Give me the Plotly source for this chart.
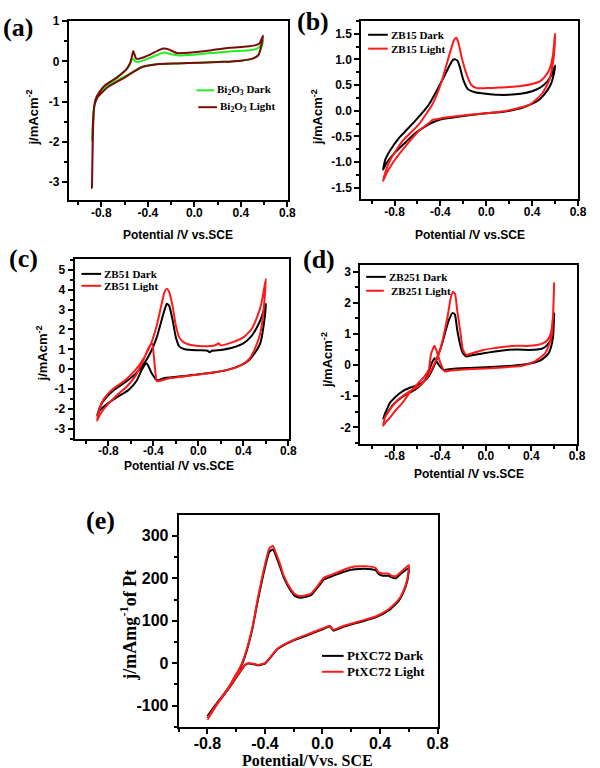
import plotly.graph_objects as go

W, H = 600, 768

# ---------------- data ----------------
# (a) Bi2O3
a_dark_x = [-0.88, -0.87, -0.86, -0.84, -0.80, -0.74, -0.66, -0.58, -0.55, -0.53, -0.51, -0.48, -0.40, -0.32, -0.26,
            -0.20, -0.14, 0.00, 0.15, 0.30, 0.45, 0.52, 0.56, 0.59,
            0.58, 0.55, 0.50, 0.40, 0.25, 0.05, -0.15, -0.32, -0.45, -0.55, -0.65, -0.75, -0.82, -0.86, -0.88]
a_dark_y = [-1.95, -1.50, -1.15, -0.88, -0.72, -0.56, -0.38, -0.19, -0.05, 0.08, 0.01, -0.01, 0.07, 0.16, 0.22,
            0.18, 0.15, 0.17, 0.21, 0.25, 0.27, 0.30, 0.36, 0.52,
            0.38, 0.17, 0.07, 0.02, -0.01, -0.03, -0.05, -0.07, -0.14, -0.30, -0.45, -0.63, -0.83, -1.10, -1.95]
a_light_x = [-0.88, -0.875, -0.87, -0.85, -0.82, -0.77, -0.66, -0.58, -0.55, -0.535, -0.525, -0.50, -0.46, -0.38,
             -0.30, -0.26, -0.22, -0.15, 0.00, 0.15, 0.30, 0.45, 0.52, 0.56, 0.59,
             0.58, 0.55, 0.50, 0.40, 0.25, 0.05, -0.15, -0.32, -0.46, -0.60, -0.74, -0.83, -0.86, -0.87, -0.88]
a_light_y = [-3.15, -2.20, -1.40, -0.95, -0.78, -0.60, -0.39, -0.18, -0.02, 0.15, 0.26, 0.07, 0.08, 0.17,
             0.29, 0.32, 0.30, 0.21, 0.23, 0.28, 0.34, 0.37, 0.40, 0.45, 0.64,
             0.45, 0.15, 0.07, 0.02, -0.01, -0.03, -0.05, -0.07, -0.15, -0.40, -0.63, -0.88, -1.10, -1.60, -3.15]

# (b) ZB15
b_dark_x = [-0.90, -0.88, -0.84, -0.76, -0.62, -0.50, -0.42, -0.36, -0.32, -0.29, -0.27, -0.25, -0.23, -0.20, -0.16,
            -0.10, 0.00, 0.10, 0.20, 0.30, 0.40, 0.47, 0.53, 0.57, 0.60,
            0.59, 0.56, 0.50, 0.44, 0.32, 0.15, 0.00, -0.15, -0.28, -0.40, -0.46, -0.52, -0.62, -0.72, -0.81, -0.87, -0.90]
b_dark_y = [-1.15, -0.95, -0.78, -0.53, -0.20, 0.12, 0.44, 0.70, 0.88, 0.99, 1.00, 0.97, 0.85, 0.60, 0.42,
            0.36, 0.33, 0.31, 0.31, 0.33, 0.38, 0.45, 0.56, 0.70, 0.88,
            0.72, 0.50, 0.30, 0.18, 0.06, -0.02, -0.05, -0.09, -0.13, -0.17, -0.22, -0.29, -0.44, -0.65, -0.85, -1.02, -1.15]
b_light_x = [-0.90, -0.88, -0.84, -0.73, -0.59, -0.47, -0.39, -0.34, -0.30, -0.28, -0.26, -0.24, -0.21, -0.17, -0.13,
             -0.08, 0.00, 0.10, 0.20, 0.30, 0.40, 0.46, 0.51, 0.55, 0.58, 0.60,
             0.595, 0.58, 0.55, 0.49, 0.38, 0.18, 0.00, -0.15, -0.30, -0.40, -0.45, -0.47, -0.50, -0.59, -0.70, -0.81,
             -0.87, -0.90]
b_light_y = [-1.37, -1.20, -0.97, -0.59, -0.27, 0.12, 0.56, 0.95, 1.25, 1.38, 1.42, 1.30, 1.00, 0.70, 0.50,
             0.44, 0.44, 0.45, 0.46, 0.48, 0.52, 0.56, 0.66, 0.80, 1.05, 1.50,
             1.20, 0.90, 0.60, 0.34, 0.12, 0.00, -0.05, -0.08, -0.12, -0.15, -0.17, -0.18, -0.24, -0.40, -0.68, -1.00,
             -1.22, -1.37]

# (c) ZB51
c_dark_x = [-0.90, -0.87, -0.83, -0.76, -0.66, -0.56, -0.48, -0.42, -0.37, -0.33, -0.30, -0.28, -0.26, -0.23, -0.20,
            -0.17, -0.12, 0.00, 0.08, 0.10, 0.12, 0.20, 0.30, 0.40, 0.47, 0.52, 0.56, 0.60,
            0.58, 0.55, 0.50, 0.45, 0.38, 0.25, 0.10, -0.10, -0.30, -0.37, -0.42, -0.46, -0.50, -0.55, -0.62, -0.72,
            -0.82, -0.88, -0.90]
c_dark_y = [-2.33, -1.85, -1.50, -1.10, -0.70, -0.25, 0.30, 0.90, 1.60, 2.40, 3.00, 3.30, 3.20, 2.50, 1.60,
            1.15, 1.00, 0.95, 0.93, 0.85, 0.93, 0.97, 1.08, 1.30, 1.65, 2.10, 2.60, 3.30,
            2.20, 1.30, 0.80, 0.45, 0.20, -0.05, -0.20, -0.33, -0.45, -0.55, -0.15, 0.30, 0.00, -0.60, -1.05, -1.40,
            -1.80, -2.10, -2.33]
c_light_x = [-0.90, -0.88, -0.84, -0.76, -0.66, -0.56, -0.48, -0.42, -0.37, -0.33, -0.30, -0.28, -0.26, -0.23, -0.20,
             -0.17, -0.13, -0.05, 0.05, 0.15, 0.18, 0.20, 0.30, 0.40, 0.47, 0.52, 0.56, 0.60,
             0.58, 0.55, 0.50, 0.45, 0.38, 0.25, 0.10, -0.10, -0.25, -0.35, -0.37, -0.39, -0.41, -0.44, -0.50, -0.56,
             -0.64, -0.74, -0.84, -0.88, -0.90]
c_light_y = [-2.60, -2.00, -1.50, -1.00, -0.60, -0.05, 0.60, 1.30, 2.20, 3.20, 3.90, 4.05, 3.90, 3.20, 2.20,
             1.60, 1.35, 1.20, 1.15, 1.20, 1.30, 1.20, 1.35, 1.60, 2.00, 2.60, 3.30, 4.55,
             3.00, 1.80, 1.00, 0.50, 0.20, -0.05, -0.20, -0.35, -0.45, -0.60, -0.60, 0.30, 1.30, 1.10, 0.30, -0.35,
             -0.90, -1.40, -2.00, -2.35, -2.60]

# (d) ZB251
d_dark_x = [-0.90, -0.87, -0.84, -0.78, -0.73, -0.66, -0.59, -0.54, -0.50, -0.46, -0.42, -0.38, -0.35, -0.32, -0.29,
            -0.27, -0.25, -0.22, -0.20, -0.17, -0.12, -0.02, 0.08, 0.18, 0.28, 0.38, 0.45, 0.50, 0.54, 0.57, 0.59, 0.60,
            0.59, 0.57, 0.55, 0.50, 0.46, 0.40, 0.32, 0.20, 0.04, -0.15, -0.30, -0.37, -0.41, -0.45, -0.48, -0.52,
            -0.56, -0.62, -0.70, -0.76, -0.82, -0.86, -0.90]
d_dark_y = [-1.72, -1.45, -1.21, -0.98, -0.84, -0.72, -0.63, -0.52, -0.36, -0.08, 0.28, 0.72, 1.13, 1.48, 1.68,
            1.62, 1.13, 0.60, 0.38, 0.28, 0.32, 0.38, 0.44, 0.49, 0.50, 0.49, 0.50, 0.54, 0.65, 0.82, 1.10, 1.66,
            0.90, 0.55, 0.38, 0.20, 0.12, 0.06, 0.01, -0.03, -0.06, -0.09, -0.12, -0.15, 0.00, 0.22, 0.00, -0.40,
            -0.60, -0.79, -0.95, -1.10, -1.30, -1.53, -1.72]
d_light_x = [-0.90, -0.88, -0.84, -0.78, -0.73, -0.66, -0.59, -0.54, -0.50, -0.45, -0.40, -0.36, -0.33, -0.31, -0.29,
             -0.27, -0.25, -0.22, -0.20, -0.17, -0.12, -0.02, 0.08, 0.18, 0.28, 0.38, 0.45, 0.50, 0.54, 0.57, 0.59, 0.60,
             0.59, 0.58, 0.55, 0.52, 0.47, 0.43, 0.32, 0.20, 0.04, -0.15, -0.30, -0.36, -0.40, -0.43, -0.45, -0.48,
             -0.50, -0.54, -0.59, -0.66, -0.73, -0.79, -0.84, -0.88, -0.90]
d_light_y = [-1.95, -1.65, -1.42, -1.15, -1.00, -0.83, -0.68, -0.52, -0.31, 0.05, 0.49, 1.10, 1.66, 2.10, 2.35,
             2.30, 1.76, 1.00, 0.49, 0.33, 0.38, 0.49, 0.55, 0.60, 0.62, 0.62, 0.65, 0.70, 0.80, 1.02, 1.60, 2.66,
             1.60, 1.00, 0.60, 0.38, 0.22, 0.12, -0.02, -0.06, -0.10, -0.13, -0.17, -0.20, 0.10, 0.45, 0.62, 0.35,
             -0.15, -0.38, -0.57, -0.85, -1.21, -1.45, -1.69, -1.85, -1.95]

# (e) PtXC72
e_dark_x = [-0.80, -0.75, -0.70, -0.65, -0.61, -0.57, -0.54, -0.49, -0.45, -0.40, -0.37, -0.345, -0.32, -0.29,
            -0.27, -0.22, -0.19, -0.15, -0.08, -0.03, 0.01, 0.06, 0.14, 0.20, 0.26, 0.32, 0.37, 0.39, 0.42, 0.46,
            0.48, 0.51, 0.55, 0.60,
            0.59, 0.56, 0.53, 0.46, 0.37, 0.26, 0.14, 0.075, 0.05, 0.01, -0.08, -0.20, -0.31, -0.40, -0.45,
            -0.47, -0.52, -0.54, -0.58, -0.65, -0.72, -0.80]
e_dark_y = [-125, -101, -79, -56, -33, -10, 15, 77, 147, 225, 262, 268, 250, 222,
            202, 170, 158, 154, 160, 180, 197, 204, 214, 220, 222, 222, 219, 210, 206, 206,
            202, 200, 212, 224,
            194, 165, 147, 124, 108, 97, 85, 77, 87, 81, 69, 54, 34, -1, -5,
            -3, -1, -5, -24, -59, -90, -129]
e_light_x = [-0.80, -0.75, -0.70, -0.65, -0.61, -0.57, -0.54, -0.49, -0.45, -0.40, -0.37, -0.345, -0.32, -0.29,
             -0.27, -0.22, -0.19, -0.15, -0.08, -0.03, 0.01, 0.06, 0.14, 0.20, 0.26, 0.32, 0.37, 0.39, 0.42, 0.46,
             0.48, 0.51, 0.55, 0.60,
             0.59, 0.56, 0.53, 0.46, 0.37, 0.26, 0.14, 0.075, 0.05, 0.01, -0.08, -0.20, -0.31, -0.40, -0.45,
             -0.47, -0.52, -0.54, -0.58, -0.65, -0.72, -0.80]
e_light_y = [-130, -104, -80, -56, -32, -8, 18, 80, 152, 232, 270, 276, 256, 228,
             206, 174, 162, 158, 164, 184, 201, 208, 219, 226, 228, 228, 224, 214, 211, 211,
             206, 205, 216, 231,
             198, 168, 150, 127, 110, 99, 87, 79, 88, 83, 71, 55, 35, 0, -4,
             -2, 0, -4, -23, -58, -90, -133]

# tick values and labels
x_ticks = [-0.8, -0.4, 0.0, 0.4, 0.8]
x_ticktext = ["-0.8", "-0.4", "0.0", "0.4", "0.8"]
a_yticks = [-3, -2, -1, 0, 1]
a_ytext = ["-3", "-2", "-1", "0", "1"]
b_yticks = [-1.5, -1.0, -0.5, 0.0, 0.5, 1.0, 1.5]
b_ytext = ["-1.5", "-1.0", "-0.5", "0.0", "0.5", "1.0", "1.5"]
c_yticks = [-3, -2, -1, 0, 1, 2, 3, 4, 5]
c_ytext = ["-3", "-2", "-1", "0", "1", "2", "3", "4", "5"]
d_yticks = [-2, -1, 0, 1, 2, 3]
d_ytext = ["-2", "-1", "0", "1", "2", "3"]
e_yticks = [-100, 0, 100, 200, 300]
e_ytext = ["-100", "0", "100", "200", "300"]

# ---------------- helpers ----------------
def PX(px):
    return px / W

def PY(py):
    return 1 - py / H

SANS = "Liberation Sans, Arial, sans-serif"
SERIF = "Liberation Serif, Times New Roman, serif"
GREEN = "#22ee22"
MAROON = "#7b0a0a"
BLACK = "#000000"
RED = "#ff1a1a"

fig = go.Figure()

panels = [
    ("", (70, 293), (15, 196), [-1.08, 0.802], [-3.46, 1.01], a_yticks, a_ytext, 0.5,
     [(a_dark_x, a_dark_y, GREEN, 2.0), (a_light_x, a_light_y, MAROON, 2.0)]),
    ("2", (368, 589), (15, 195), [-1.09, 0.802], [-1.73, 1.75], b_yticks, b_ytext, 0.25,
     [(b_dark_x, b_dark_y, BLACK, 2.0), (b_light_x, b_light_y, RED, 2.0)]),
    ("3", (76, 294), (255, 436), [-1.10, 0.802], [-3.5, 5.55], c_yticks, c_ytext, 0.5,
     [(c_dark_x, c_dark_y, BLACK, 2.0), (c_light_x, c_light_y, RED, 2.0)]),
    ("4", (367, 588), (261, 441), [-1.10, 0.802], [-2.52, 3.22], d_yticks, d_ytext, 0.5,
     [(d_dark_x, d_dark_y, BLACK, 2.0), (d_light_x, d_light_y, RED, 2.0)]),
    ("5", (182, 446), (513, 727), [-1.0, 0.802], [-151, 349], e_yticks, e_ytext, 50,
     [(e_dark_x, e_dark_y, BLACK, 2.0), (e_light_x, e_light_y, RED, 2.0)]),
]

layout_axes = {}
for i, (n, xd, yd, xr, yr, yt, ytt, ymin, traces) in enumerate(panels):
    big = (n == "5")
    tfont = dict(family=SANS, size=16 if big else 12, color="black", weight="bold")
    for (xs, ys, col, lw) in traces:
        fig.add_trace(go.Scatter(x=xs, y=ys, mode="lines", xaxis="x" + n, yaxis="y" + n,
                                 line=dict(color=col, width=lw, shape="spline", smoothing=0.5),
                                 showlegend=False, hoverinfo="skip"))
    common = dict(showline=True, linewidth=2, linecolor="black", mirror=True, ticks="outside",
                  ticklen=5, tickwidth=1.5, tickcolor="black", showgrid=False, zeroline=False,
                  tickfont=tfont, tickmode="array")
    layout_axes["xaxis" + n] = dict(common, domain=[PX(xd[0]), PX(xd[1])], range=xr,
                                    anchor="y" + n, tickvals=x_ticks, ticktext=x_ticktext,
                                    ticklabelstandoff=-5,
                                    minor=dict(dtick=0.2, tick0=0, ticks="outside", ticklen=3,
                                               tickwidth=1.5, tickcolor="black"))
    layout_axes["yaxis" + n] = dict(common, domain=[PY(yd[1]), PY(yd[0])], range=yr,
                                    anchor="x" + n, tickvals=yt, ticktext=ytt,
                                    minor=dict(dtick=ymin, tick0=0, ticks="outside", ticklen=3,
                                               tickwidth=1.5, tickcolor="black"))

ann = []
def text(px, py, s, size, family=SANS, angle=0, xanchor="center", weight="bold"):
    ann.append(dict(x=PX(px), y=PY(py), xref="paper", yref="paper", text=s, showarrow=False,
                    textangle=angle, xanchor=xanchor, yanchor="middle",
                    font=dict(family=family, size=size, color="black", weight=weight)))

# panel labels
text(18, 22, "(a)", 26, SERIF)
text(319, 16, "(b)", 26, SERIF)
text(24, 254, "(c)", 26, SERIF)
text(325, 255, "(d)", 26, SERIF)
text(102, 519, "(e)", 26, SERIF)

# axis titles
xt = "Potential /V vs.SCE"
text(181, 231, xt, 12)
text(479, 231, xt, 12)
text(182, 464, xt, 12)
text(478, 472, xt, 12)
text(313, 760, "Potential/Vvs. SCE", 16, SERIF)
yt = "j/mAcm<sup>-2</sup>"
text(33, 112, yt, 13, angle=-90)
text(323, 112, yt, 13, angle=-90)
text(43, 350, yt, 13, angle=-90)
text(333, 357, yt, 13, angle=-90)
text(131, 624, "j/mAmg<sup>-1</sup>of Pt", 18, SERIF, angle=-90)

# legends
shapes = []
def leg(x0, x1, py, col, label, size=11, tx=None):
    shapes.append(dict(type="line", xref="paper", yref="paper", x0=PX(x0), x1=PX(x1), y0=PY(py), y1=PY(py),
                       line=dict(color=col, width=2)))
    text(tx if tx is not None else x1 + 1, py, label, size, SERIF, xanchor="left")

leg(200, 218, 85, GREEN, "Bi<sub>2</sub>O<sub>3</sub> Dark")
leg(202, 221, 102, MAROON, "Bi<sub>2</sub>O<sub>3</sub> Light")
leg(375, 395, 29, BLACK, "ZB15 Dark")
leg(375, 395, 43, RED, "ZB15 Light")
leg(83, 103, 270, BLACK, "ZB51 Dark")
leg(83, 103, 282, RED, "ZB51 Light")
leg(373, 393, 273, BLACK, "ZB251 Dark")
leg(373, 391, 287, RED, "ZB251 Light", tx=396)
leg(328, 350, 655, BLACK, "PtXC72 Dark", size=13)
leg(328, 350, 671, RED, "PtXC72 Light", size=13)

fig.update_layout(width=W, height=H, autosize=False, margin=dict(l=0, r=0, t=0, b=0),
                  paper_bgcolor="white", plot_bgcolor="white", showlegend=False,
                  annotations=ann, shapes=shapes, **layout_axes)

fig.write_html("out.html", config={"displayModeBar": False},
               post_script="document.body.style.margin='0px';")
